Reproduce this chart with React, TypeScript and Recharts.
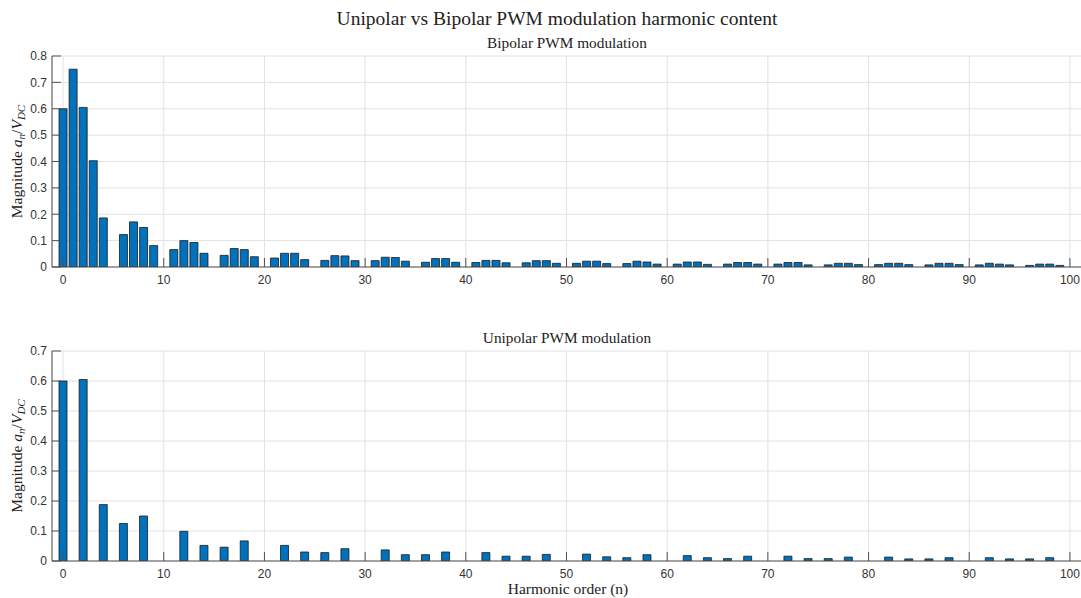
import React from 'react';
import { BarChart, Bar, XAxis, YAxis, CartesianGrid } from 'recharts';

// Harmonic magnitudes a_n / V_DC for bipolar modulation, orders n = 0..99
const bipolarMagnitudes = [
  0.600, 0.750, 0.605, 0.403, 0.186, 0,
  0.123, 0.171, 0.150, 0.081, 0,
  0.066, 0.100, 0.093, 0.052, 0,
  0.044, 0.070, 0.066, 0.039, 0,
  0.034, 0.052, 0.052, 0.028, 0,
  0.025, 0.043, 0.042, 0.024, 0,
  0.024, 0.037, 0.036, 0.022, 0,
  0.018, 0.032, 0.032, 0.018, 0,
  0.017, 0.025, 0.025, 0.016, 0,
  0.016, 0.024, 0.024, 0.014, 0,
  0.014, 0.022, 0.022, 0.013, 0,
  0.013, 0.022, 0.019, 0.011, 0,
  0.011, 0.019, 0.019, 0.010, 0,
  0.011, 0.017, 0.017, 0.011, 0,
  0.011, 0.017, 0.017, 0.008, 0,
  0.008, 0.014, 0.014, 0.009, 0,
  0.009, 0.014, 0.014, 0.009, 0,
  0.008, 0.014, 0.014, 0.009, 0,
  0.008, 0.014, 0.011, 0.008, 0,
  0.006, 0.011, 0.011, 0.006,
];

// Unipolar modulation only has even orders: n = 0, 2, 4, ..., 98
const unipolarMagnitudes = [
  0.600, 0.605, 0.188, 0.125, 0.150,
  0, 0.099, 0.052, 0.046, 0.067,
  0, 0.052, 0.030, 0.028, 0.041,
  0, 0.037, 0.021, 0.021, 0.030,
  0, 0.028, 0.016, 0.016, 0.022,
  0, 0.023, 0.014, 0.011, 0.021,
  0, 0.018, 0.011, 0.008, 0.016,
  0, 0.016, 0.008, 0.008, 0.013,
  0, 0.013, 0.007, 0.007, 0.011,
  0, 0.011, 0.007, 0.007, 0.011,
];

const orderTicks = [0, 10, 20, 30, 40, 50, 60, 70, 80, 90, 100];
const bipolarTicks = [0, 0.1, 0.2, 0.3, 0.4, 0.5, 0.6, 0.7, 0.8];
const unipolarTicks = [0, 0.1, 0.2, 0.3, 0.4, 0.5, 0.6, 0.7];
const orderDomain: [number, number] = [-1.1, 101.2];

const FIGURE_TITLE = 'Unipolar vs Bipolar PWM modulation harmonic content';
const BIPOLAR_TITLE = 'Bipolar PWM modulation';
const UNIPOLAR_TITLE = 'Unipolar PWM modulation';
const X_LABEL = 'Harmonic order (n)';

const bipolarData = bipolarMagnitudes.map((v, n) => ({ n, v }));
const unipolarData = unipolarMagnitudes.map((v, i) => ({ n: 2 * i, v }));

const BAR_FILL = '#0072BD';
const BAR_EDGE = '#1a1a1a';
const AXIS_COLOR = '#505050';
const GRID_COLOR = '#e2e2e2';
const TICK_TEXT = '#333333';
const TICK_LEN = 9;
const SANS = '"Liberation Sans", Arial, Helvetica, sans-serif';
const SERIF = '"Liberation Serif", "Times New Roman", serif';

const fmt = (v: number) => String(v);

// Inward-pointing ticks, MATLAB box style
const BottomTick = (props: any) => {
  const { x, y, payload } = props;
  return (
    <g>
      <line x1={x} y1={y} x2={x} y2={y - TICK_LEN} stroke={AXIS_COLOR} strokeWidth={1} />
      <text x={x} y={y + 16.5} textAnchor="middle" fontFamily={SANS} fontSize={12} fill={TICK_TEXT}>
        {fmt(payload.value)}
      </text>
    </g>
  );
};

const TopTick = (props: any) => {
  const { x, y } = props;
  return <line x1={x} y1={y} x2={x} y2={y + TICK_LEN} stroke={AXIS_COLOR} strokeWidth={1} />;
};

const LeftTick = (props: any) => {
  const { x, y, payload } = props;
  return (
    <g>
      <line x1={x} y1={y} x2={x + TICK_LEN} y2={y} stroke={AXIS_COLOR} strokeWidth={1} />
      <text x={x - 5} y={y + 4.3} textAnchor="end" fontFamily={SANS} fontSize={12} fill={TICK_TEXT}>
        {fmt(payload.value)}
      </text>
    </g>
  );
};

const RightTick = (props: any) => {
  const { x, y } = props;
  return <line x1={x} y1={y} x2={x - TICK_LEN} y2={y} stroke={AXIS_COLOR} strokeWidth={1} />;
};

type PanelProps = {
  data: { n: number; v: number }[];
  yTicks: number[];
  height: number;
  bottomAxisHeight: number;
};

const HarmonicPanel = ({ data, yTicks, height, bottomAxisHeight }: PanelProps) => {
  const yDomain: [number, number] = [yTicks[0], yTicks[yTicks.length - 1]];
  return (
    <BarChart
      width={1082}
      height={height}
      data={data}
      margin={{ top: 26, right: 0, bottom: 0, left: 0 }}
    >
      <CartesianGrid stroke={GRID_COLOR} strokeWidth={1} />
      <XAxis
        dataKey="n"
        type="number"
        domain={orderDomain}
        allowDataOverflow
        ticks={orderTicks}
        interval={0}
        height={bottomAxisHeight}
        tickSize={0}
        tickMargin={0}
        tickLine={false}
        axisLine={{ stroke: AXIS_COLOR, strokeWidth: 1 }}
        tick={<BottomTick />}
      />
      <XAxis
        xAxisId="top"
        orientation="top"
        dataKey="n"
        type="number"
        domain={orderDomain}
        allowDataOverflow
        ticks={orderTicks}
        interval={0}
        height={0}
        tickSize={0}
        tickMargin={0}
        tickLine={false}
        axisLine={{ stroke: AXIS_COLOR, strokeWidth: 1 }}
        tick={<TopTick />}
      />
      <YAxis
        type="number"
        domain={yDomain}
        allowDataOverflow
        ticks={yTicks}
        interval={0}
        width={52}
        tickSize={0}
        tickMargin={0}
        tickLine={false}
        axisLine={{ stroke: AXIS_COLOR, strokeWidth: 1 }}
        tick={<LeftTick />}
      />
      <YAxis
        yAxisId="right"
        orientation="right"
        type="number"
        domain={yDomain}
        allowDataOverflow
        ticks={yTicks}
        interval={0}
        width={0}
        tickSize={0}
        tickMargin={0}
        tickLine={false}
        axisLine={{ stroke: AXIS_COLOR, strokeWidth: 1 }}
        tick={<RightTick />}
      />
      <Bar
        dataKey="v"
        fill={BAR_FILL}
        stroke={BAR_EDGE}
        strokeWidth={0.8}
        barSize={8}
        isAnimationActive={false}
      />
    </BarChart>
  );
};

// Rotated y label: Magnitude a_n / V_DC
const MagnitudeLabel = ({ x, y }: { x: number; y: number }) => (
  <text
    x={x}
    y={y}
    transform={`rotate(-90 ${x} ${y})`}
    textAnchor="middle"
    fontFamily={SERIF}
    fontSize={15.5}
    fill="#222"
  >
    Magnitude{' '}
    <tspan fontStyle="italic">a</tspan>
    <tspan fontStyle="italic" fontSize={11} dy={3}>n</tspan>
    <tspan dy={-3}>/</tspan>
    <tspan fontStyle="italic">V</tspan>
    <tspan fontStyle="italic" fontSize={11} dy={3}>DC</tspan>
  </text>
);

export default function App() {
  return (
    <div
      style={{
        position: 'absolute',
        left: 0,
        top: 0,
        width: 1081,
        height: 598,
        overflow: 'hidden',
        background: '#ffffff',
      }}
    >
      <div style={{ position: 'absolute', left: 0, top: 30 }}>
        <HarmonicPanel data={bipolarData} yTicks={bipolarTicks} height={270} bottomAxisHeight={33} />
      </div>
      <div style={{ position: 'absolute', left: 0, top: 325 }}>
        <HarmonicPanel data={unipolarData} yTicks={unipolarTicks} height={273} bottomAxisHeight={37} />
      </div>
      <svg
        width={1081}
        height={598}
        style={{ position: 'absolute', left: 0, top: 0, pointerEvents: 'none' }}
      >
        <text x={557} y={25} textAnchor="middle" fontFamily={SERIF} fontSize={19.5} fill="#222">
          {FIGURE_TITLE}
        </text>
        <text x={567} y={48} textAnchor="middle" fontFamily={SERIF} fontSize={15.3} fill="#222">
          {BIPOLAR_TITLE}
        </text>
        <text x={567} y={343} textAnchor="middle" fontFamily={SERIF} fontSize={15.3} fill="#222">
          {UNIPOLAR_TITLE}
        </text>
        <text x={568} y={593.5} textAnchor="middle" fontFamily={SERIF} fontSize={15.5} fill="#222">
          {X_LABEL}
        </text>
        <MagnitudeLabel x={22} y={161.5} />
        <MagnitudeLabel x={22} y={456} />
      </svg>
    </div>
  );
}
